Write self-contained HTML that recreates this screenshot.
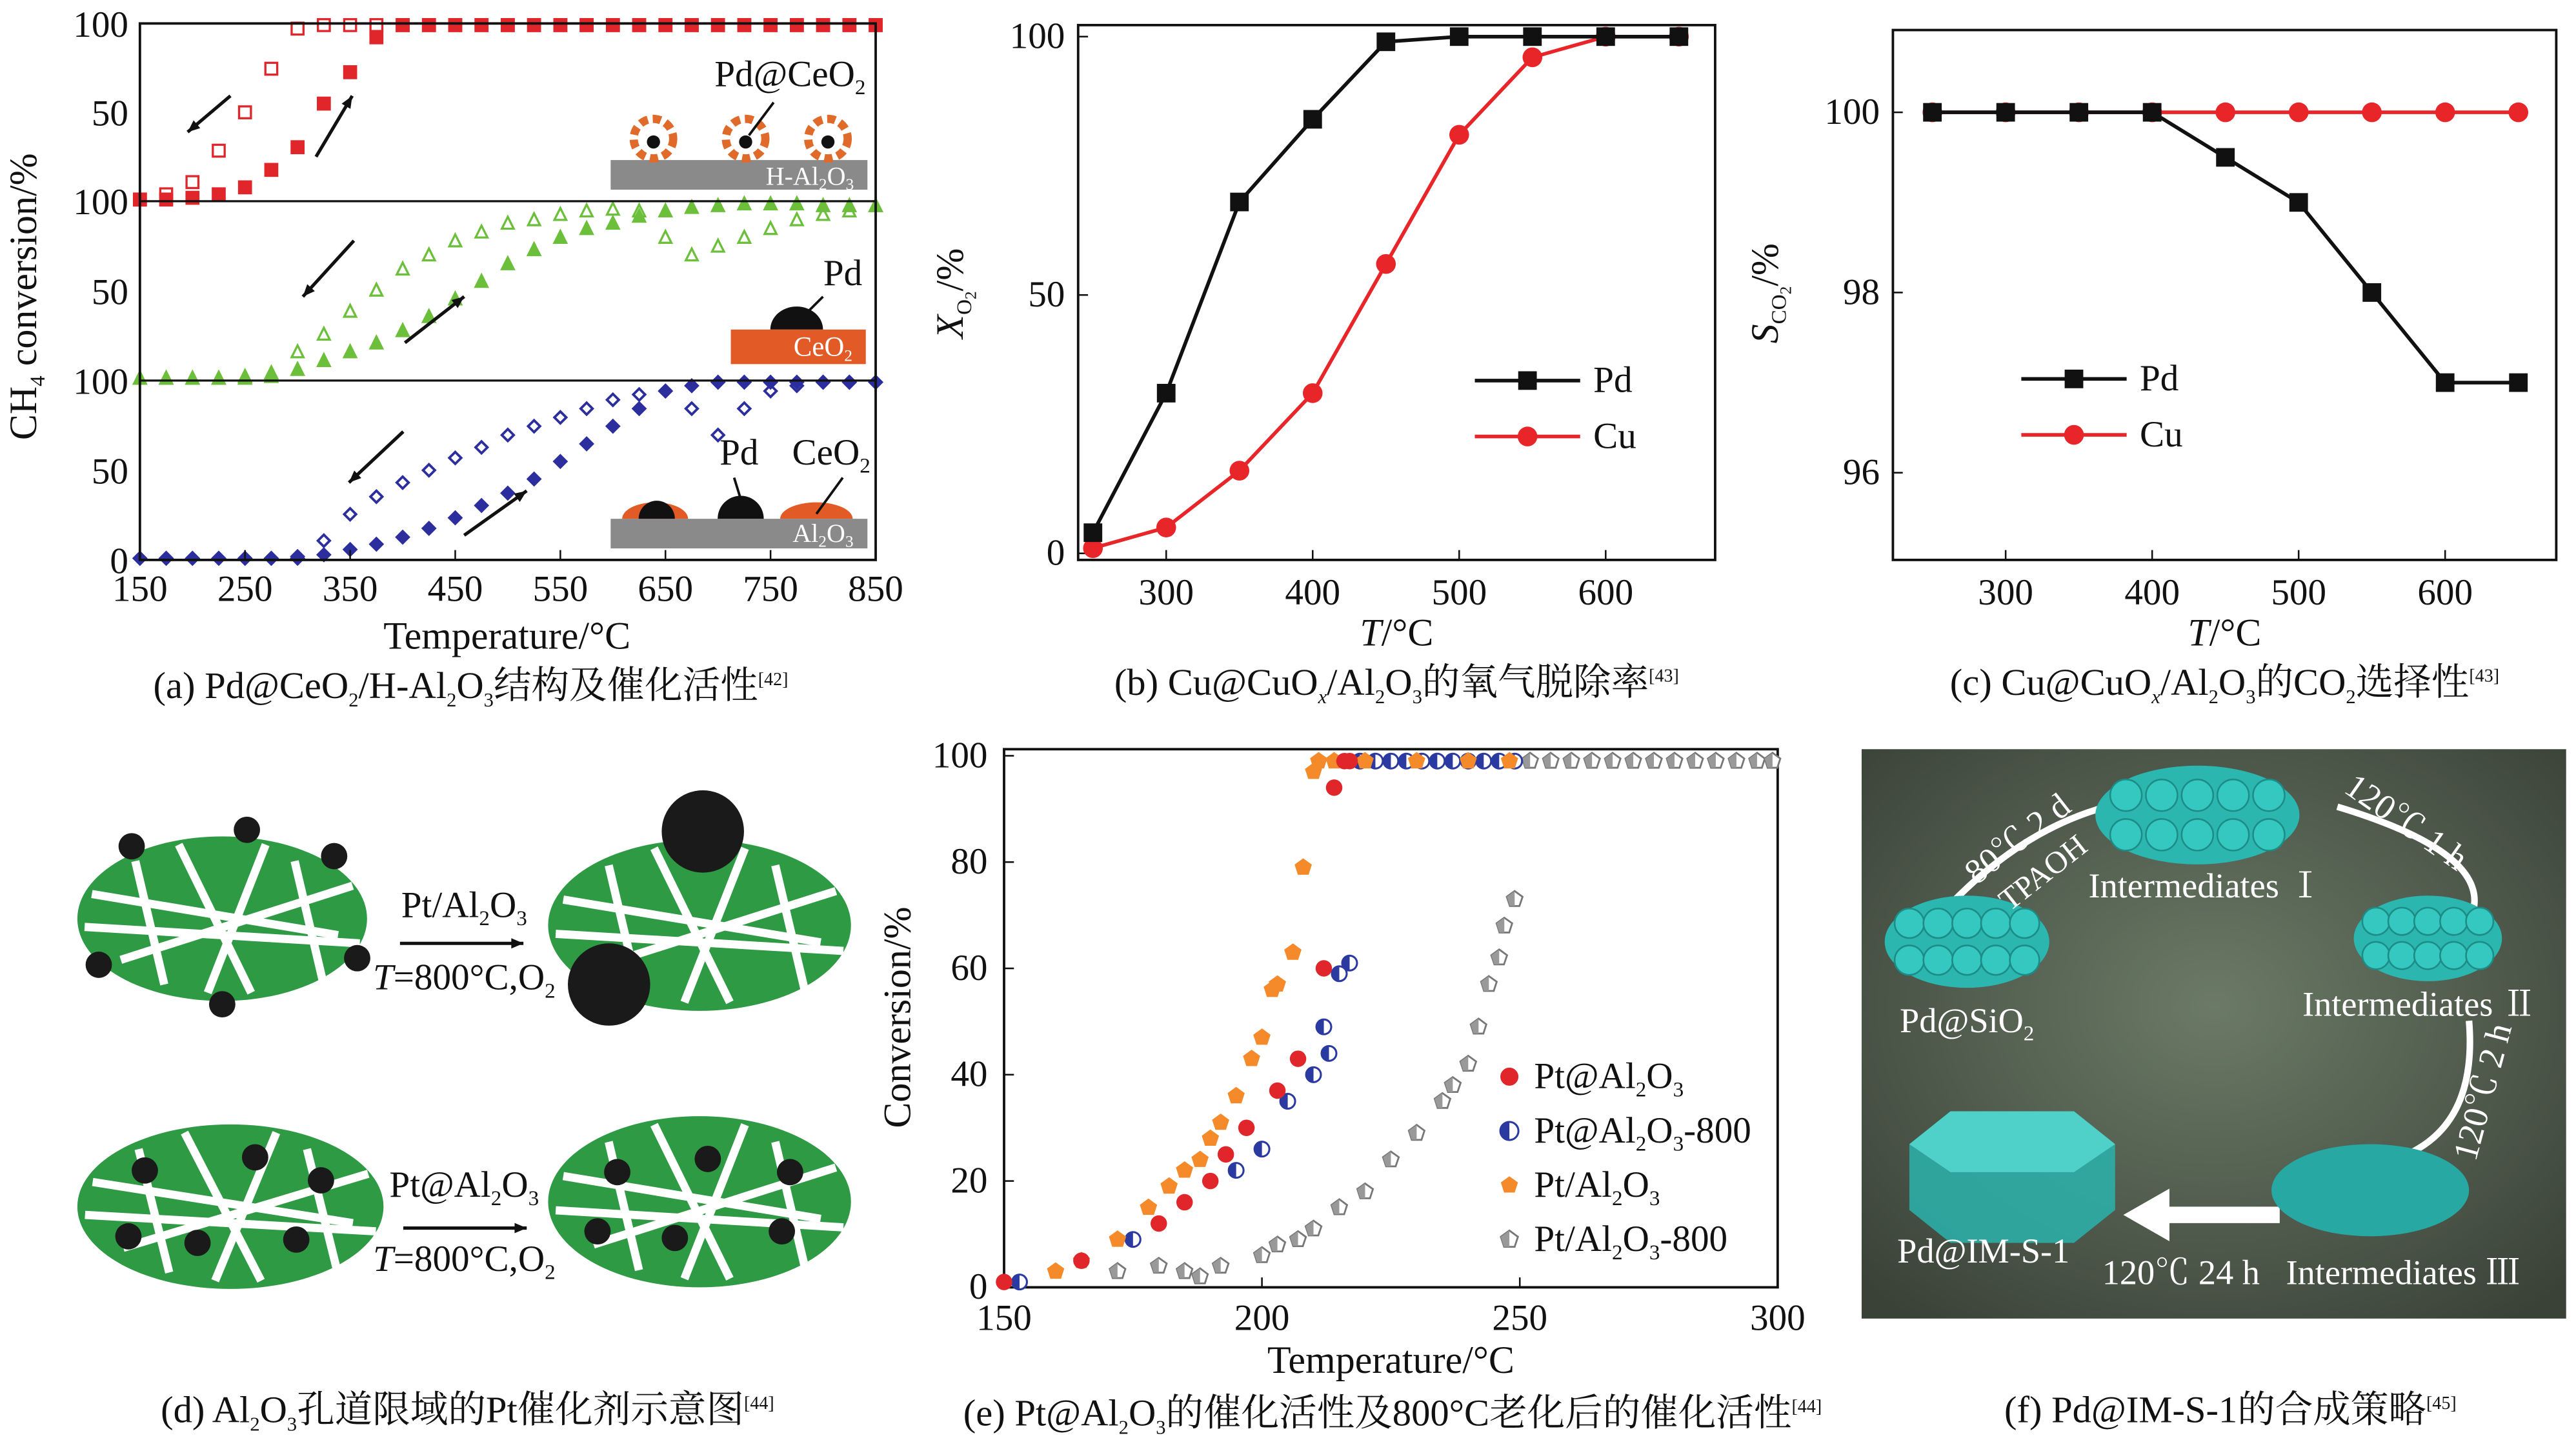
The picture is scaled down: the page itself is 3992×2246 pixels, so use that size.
<!DOCTYPE html>
<html><head><meta charset="utf-8">
<style>
html,body{margin:0;padding:0;background:#fff;}
svg{display:block;}
text{font-family:"Liberation Serif","Noto Serif CJK SC",serif;fill:#111;}
</style></head>
<body>
<svg id="fig" width="3992" height="2246" viewBox="0 0 1565 880" xmlns="http://www.w3.org/2000/svg"></svg>
<script>
// ---------- Panel (a) data ----------
const aTemps=[150,175,200,225,250,275,300,325,350,375,400,425,450,475,500,525,550,575,600,625,650,675,700,725,750,775,800,825,850];
const a1Heat=[0,0,1,3,7,17,30,55,73,93,100,100,100,100,100,100,100,100,100,100,100,100,100,100,100,100,100,100,100];
const a1Cool=[0,3,10,28,50,75,98,100,100,100,100,100,100,100,100,100,100,100,100,100,100,100,100,100,100,100,100,100,100];
const a2Heat=[0,0,0,0,0,1,5,10,15,20,27,35,45,55,65,73,80,85,88,92,95,97,98,99,99,99,98,98,98];
const a2Cool=[0,0,0,0,1,3,15,25,38,50,62,70,78,83,88,90,93,95,96,95,80,70,75,80,85,90,93,95,98];
const a3Heat=[0,0,0,0,0,0,0,2,5,8,12,17,23,30,37,45,55,65,75,85,95,98,100,100,100,100,100,100,100];
const a3Cool=[0,0,0,0,0,0,1,10,25,35,43,50,57,63,70,75,80,85,90,93,95,85,70,85,95,98,100,100,100];
const aTicksX=[150,250,350,450,550,650,750,850];
// ---------- Panel (b) data ----------
const bTemps=[250,300,350,400,450,500,550,600,650];
const bPd=[4,31,68,84,99,100,100,100,100];
const bCu=[1,5,16,31,56,81,96,100,100];
const bTicksX=[300,400,500,600];
const bTicksY=[0,50,100];
// ---------- Panel (c) data ----------
const cTemps=[250,300,350,400,450,500,550,600,650];
const cPd=[100,100,100,100,99.5,99,98,97,97];
const cCu=[100,100,100,100,100,100,100,100,100];
const cTicksX=[300,400,500,600];
const cTicksY=[96,98,100];
// ---------- Panel (e) data ----------
const eRedT=[150,165,180,185,190,193,197,203,207,212,214,216,217];
const eRedV=[1,5,12,16,20,25,30,37,43,60,94,99,99];
const eBlueT=[153,175,195,200,205,210,212,213,215,217,219,222,225,228,231,234,237,240,243,246,249];
const eBlueV=[1,9,22,26,35,40,49,44,59,61,99,99,99,99,99,99,99,99,99,99,99];
const eOrT=[160,165,172,178,182,185,188,190,192,195,198,200,202,203,206,208,210,211,214,220,230,240,248];
const eOrV=[3,5,9,15,19,22,24,28,31,36,43,47,56,57,63,79,97,99,99,99,99,99,99];
const eGrT=[172,180,185,188,192,200,203,207,210,215,220,225,230,235,237,240,242,244,246,247,249,252,256,260,264,268,272,276,280,284,288,292,296,299];
const eGrV=[3,4,3,2,4,6,8,9,11,15,18,24,29,35,38,42,49,57,62,68,73,99,99,99,99,99,99,99,99,99,99,99,99,99];
const eTicksX=[150,200,250,300];
const eTicksY=[0,20,40,60,80,100];

const NS='http://www.w3.org/2000/svg';
const svg=document.getElementById('fig');
function mk(tag,attrs,parent){const e=document.createElementNS(NS,tag);for(const k in attrs)e.setAttribute(k,attrs[k]);(parent||svg).appendChild(e);return e;}
function txt(x,y,s,size,parent,anchor,extra){const t=mk('text',Object.assign({x:x,y:y,'font-size':size*1.12,'text-anchor':anchor||'middle'},extra||{}),parent);t.innerHTML=s;return t;}
function scale(d0,d1,r0,r1){return v=>r0+(v-d0)*(r1-r0)/(d1-d0);}
function marker(g,type,x,y,color,filled,s){
  let el;const f=filled?color:'#fff';
  if(type==='sq')el=mk('rect',{x:x-s,y:y-s,width:2*s,height:2*s,fill:f,stroke:color,'stroke-width':1.3},g);
  else if(type==='tri')el=mk('polygon',{points:`${x},${y-s*1.2} ${x-s},${y+s*0.8} ${x+s},${y+s*0.8}`,fill:f,stroke:color,'stroke-width':1.3},g);
  else if(type==='dia')el=mk('polygon',{points:`${x},${y-s} ${x+s},${y} ${x},${y+s} ${x-s},${y}`,fill:f,stroke:color,'stroke-width':1.5},g);
  else if(type==='circ')el=mk('circle',{cx:x,cy:y,r:s,fill:color},g);
  else if(type==='half'){el=mk('g',{},g);mk('circle',{cx:x,cy:y,r:s,fill:'#fff',stroke:color,'stroke-width':1.2},el);mk('path',{d:`M${x},${y-s} A${s},${s} 0 0 0 ${x},${y+s} Z`,fill:color},el);}
  else if(type==='pent'){let p=[];for(let i=0;i<5;i++){const a=-Math.PI/2+i*2*Math.PI/5;p.push((x+s*Math.cos(a)).toFixed(1)+','+(y+s*Math.sin(a)).toFixed(1));}el=mk('polygon',{points:p.join(' '),fill:color},g);}
  else if(type==='gpent'){let p=[];for(let i=0;i<5;i++){const a=-Math.PI/2+i*2*Math.PI/5;p.push((x+s*Math.cos(a)).toFixed(1)+','+(y+s*Math.sin(a)).toFixed(1));}el=mk('g',{},g);mk('polygon',{points:p.join(' '),fill:'#fff',stroke:'#777','stroke-width':1.1},el);mk('polygon',{points:`${x},${y-s} ${x-s*0.95},${y-s*0.3} ${x-s*0.6},${y+s*0.8} ${x},${y+s*0.8}`,fill:'#999'},el);}
  
  
  return el;
}

// ===== Panel (a) =====
const ga=mk('g',{});


const axA=scale(150,850,85,532);
const subs=[[14,122,a1Heat,a1Cool,'sq','#e0262a'],[122,231,a2Heat,a2Cool,'tri','#6cbf3a'],[231,340,a3Heat,a3Cool,'dia','#2b2e9c']];
subs.forEach((sb,si)=>{
  const ys=scale(0,100,sb[1]-1,sb[0]+1);
  for(let i=0;i<aTemps.length;i++){
    marker(ga,sb[4],axA(aTemps[i]),ys(sb[3][i]),sb[5],false,3.6);
    marker(ga,sb[4],axA(aTemps[i]),ys(sb[2][i]),sb[5],true,3.6);
  }
  mk('line',{x1:85,y1:sb[0],x2:532,y2:sb[0],stroke:'#111','stroke-width':1.3},ga);
  txt(78,sb[0]+8,'100',20,ga,'end');
  txt(78,(sb[0]+sb[1])/2+8,'50',20,ga,'end');
});
txt(78,348,'0',20,ga,'end');
mk('rect',{x:85,y:14,width:447,height:326,fill:'none',stroke:'#111','stroke-width':1.5},ga);
aTicksX.forEach(t=>{mk('line',{x1:axA(t),y1:340,x2:axA(t),y2:334,stroke:'#111'},ga);txt(axA(t),365,t,20,ga);});
txt(308,394,'Temperature/°C',21,ga);
txt(22,180,'CH<tspan font-size="13" dy="5">4</tspan><tspan dy="-5"> conversion/%</tspan>',21,ga,'middle',{transform:'rotate(-90 22 180)'});
// arrows
function arrow(g,x1,y1,x2,y2){mk('line',{x1:x1,y1:y1,x2:x2,y2:y2,stroke:'#111','stroke-width':2},g);const a=Math.atan2(y2-y1,x2-x1),L=8;mk('polygon',{points:`${x2},${y2} ${x2-L*Math.cos(a-0.4)},${y2-L*Math.sin(a-0.4)} ${x2-L*Math.cos(a+0.4)},${y2-L*Math.sin(a+0.4)}`,fill:'#111'},g);}
arrow(ga,140,58,114,80);arrow(ga,192,95,214,58);
arrow(ga,215,146,184,180);arrow(ga,246,208,282,180);
arrow(ga,245,262,212,293);arrow(ga,282,325,320,298);
// schematic decor a
mk('rect',{x:371,y:97,width:156,height:18,fill:'#8a8a8a'},ga);
txt(492,112,'H-Al<tspan font-size="10" dy="3">2</tspan><tspan dy="-3">O</tspan><tspan font-size="10" dy="3">3</tspan>',14,ga,'middle',{style:'fill:#fff'});
[397,453,503].forEach(cx=>{mk('circle',{cx:cx,cy:84,r:12,fill:'none',stroke:'#e06a2a','stroke-width':5,'stroke-dasharray':'5 3'},ga);mk('circle',{cx:cx,cy:86,r:4,fill:'#111'},ga);});
txt(480,52,'Pd@CeO<tspan font-size="13" dy="5">2</tspan>',20,ga);
mk('line',{x1:470,y1:62,x2:455,y2:82,stroke:'#111','stroke-width':1.5},ga);
mk('rect',{x:444,y:200,width:82,height:21,fill:'#e25a25'},ga);
txt(500,216,'CeO<tspan font-size="10" dy="3">2</tspan>',15,ga,'middle',{style:'fill:#fff'});
mk('path',{d:'M468,200 A16,14 0 0 1 500,200 Z',fill:'#111'},ga);
txt(512,173,'Pd',20,ga);mk('line',{x1:500,y1:180,x2:488,y2:192,stroke:'#111','stroke-width':1.5},ga);
mk('rect',{x:371,y:315,width:156,height:18,fill:'#8a8a8a'},ga);
txt(500,329,'Al<tspan font-size="10" dy="3">2</tspan><tspan dy="-3">O</tspan><tspan font-size="10" dy="3">3</tspan>',14,ga,'middle',{style:'fill:#fff'});
mk('path',{d:'M378,315 A20,10 0 0 1 418,315 Z',fill:'#e25a25'},ga);mk('path',{d:'M388,315 A11,11 0 0 1 410,315 Z',fill:'#111'},ga);
mk('path',{d:'M436,315 A14,14 0 0 1 464,315 Z',fill:'#111'},ga);
mk('path',{d:'M474,315 A22,10 0 0 1 518,315 Z',fill:'#e25a25'},ga);
txt(449,282,'Pd',20,ga);mk('line',{x1:446,y1:290,x2:450,y2:303,stroke:'#111','stroke-width':1.5},ga);
txt(505,282,'CeO<tspan font-size="13" dy="5">2</tspan>',20,ga);mk('line',{x1:512,y1:290,x2:496,y2:312,stroke:'#111','stroke-width':1.5},ga);
txt(286,424,'(a) Pd@CeO<tspan font-size="12" dy="5">2</tspan><tspan dy="-5">/H-Al</tspan><tspan font-size="12" dy="5">2</tspan><tspan dy="-5">O</tspan><tspan font-size="12" dy="5">3</tspan><tspan dy="-5">结构及催化活性</tspan><tspan font-size="11" dy="-8">[42]</tspan>',20.5,ga);

// ===== line charts (b),(c) =====
function lineChart(name,box,xd,yd,temps,s1,s2,ticksX,ticksY,ylab,cap,legY){
  const g=mk('g',{});
  
  
  const xs=scale(xd[0],xd[1],xd[2],xd[3]),ys=scale(yd[0],yd[1],yd[2],yd[3]);
  mk('rect',{x:box[0],y:box[1],width:box[2]-box[0],height:box[3]-box[1],fill:'none',stroke:'#111','stroke-width':1.5},g);
  ticksX.forEach(t=>{mk('line',{x1:xs(t),y1:box[3],x2:xs(t),y2:box[3]-6,stroke:'#111'},g);txt(xs(t),367,t,20,g);});
  ticksY.forEach(t=>{mk('line',{x1:box[0],y1:ys(t),x2:box[0]+6,y2:ys(t),stroke:'#111'},g);txt(box[0]-8,ys(t)+7,t,20,g,'end');});
  [[s2,'#e8262a','circ'],[s1,'#111','sq']].forEach(([s,c,m])=>{
    const p=mk('polyline',{points:temps.map((t,i)=>xs(t)+','+ys(s[i])).join(' '),fill:'none',stroke:c,'stroke-width':2.2},g);
    
    
    temps.forEach((t,i)=>{if(m==='sq')marker(g,'sq',xs(t),ys(s[i]),c,true,5);else marker(g,'circ',xs(t),ys(s[i]),c,true,6);});
  });
  const lx=legY[0],ly=legY[1];
  mk('line',{x1:lx,y1:ly,x2:lx+64,y2:ly,stroke:'#111','stroke-width':2.2},g);marker(g,'sq',lx+32,ly,'#111',true,5);txt(lx+72,ly+7,'Pd',20,g,'start');
  mk('line',{x1:lx,y1:ly+34,x2:lx+64,y2:ly+34,stroke:'#e8262a','stroke-width':2.2},g);marker(g,'circ',lx+32,ly+34,'#e8262a',true,6);txt(lx+72,ly+41,'Cu',20,g,'start');
  txt((box[0]+box[2])/2,392,'<tspan font-style="italic">T</tspan>/°C',21,g);
  txt(box[0]-70,178,ylab,21,g,'middle',{transform:`rotate(-90 ${box[0]-70} 178)`});
  txt((box[0]+box[2])/2,422,cap,20.5,g);
  return g;
}
lineChart('panel-b-chart',[655,15,1042,340],[250,650,664,1020],[0,100,336,22],bTemps,bPd,bCu,bTicksX,bTicksY,
 '<tspan font-style="italic">X</tspan><tspan font-size="13" dy="5">O</tspan><tspan font-size="10" dy="3">2</tspan><tspan dy="-8">/%</tspan>',
 '(b) Cu@CuO<tspan font-size="12" dy="5" font-style="italic">x</tspan><tspan dy="-5">/Al</tspan><tspan font-size="12" dy="5">2</tspan><tspan dy="-5">O</tspan><tspan font-size="12" dy="5">3</tspan><tspan dy="-5">的氧气脱除率</tspan><tspan font-size="11" dy="-8">[43]</tspan>',[896,231]);
lineChart('panel-c-chart',[1150,18,1553,340],[250,650,1174,1530],[96,100,287,68],cTemps,cPd,cCu,cTicksX,cTicksY,
 '<tspan font-style="italic">S</tspan><tspan font-size="13" dy="5">CO</tspan><tspan font-size="10" dy="3">2</tspan><tspan dy="-8">/%</tspan>',
 '(c) Cu@CuO<tspan font-size="12" dy="5" font-style="italic">x</tspan><tspan dy="-5">/Al</tspan><tspan font-size="12" dy="5">2</tspan><tspan dy="-5">O</tspan><tspan font-size="12" dy="5">3</tspan><tspan dy="-5">的CO</tspan><tspan font-size="12" dy="5">2</tspan><tspan dy="-5">选择性</tspan><tspan font-size="11" dy="-8">[43]</tspan>',[1228,230]);

// ===== Panel (e) =====
const ge=mk('g',{});


const exs=scale(150,300,610,1080),eys=scale(0,100,782,459);
mk('rect',{x:610,y:455,width:470,height:327,fill:'none',stroke:'#111','stroke-width':1.5},ge);
eTicksX.forEach(t=>{mk('line',{x1:exs(t),y1:782,x2:exs(t),y2:776,stroke:'#111'},ge);txt(exs(t),808,t,20,ge);});
eTicksY.forEach(t=>{mk('line',{x1:610,y1:eys(t),x2:616,y2:eys(t),stroke:'#111'},ge);txt(600,eys(t)+7,t,20,ge,'end');});
eGrT.forEach((t,i)=>marker(ge,'gpent',exs(t),eys(eGrV[i]),'#888',false,5));
eBlueT.forEach((t,i)=>marker(ge,'half',exs(t),eys(eBlueV[i]),'#2b3aa0',false,4.5));
eOrT.forEach((t,i)=>marker(ge,'pent',exs(t),eys(eOrV[i]),'#f58a2a',true,5.5));
eRedT.forEach((t,i)=>marker(ge,'circ',exs(t),eys(eRedV[i]),'#e0262a',true,5));
const legE=[['circ','#e0262a','Pt@Al<tspan font-size="13" dy="5">2</tspan><tspan dy="-5">O</tspan><tspan font-size="13" dy="5">3</tspan>'],['half','#2b3aa0','Pt@Al<tspan font-size="13" dy="5">2</tspan><tspan dy="-5">O</tspan><tspan font-size="13" dy="5">3</tspan><tspan dy="-5">-800</tspan>'],['pent','#f58a2a','Pt/Al<tspan font-size="13" dy="5">2</tspan><tspan dy="-5">O</tspan><tspan font-size="13" dy="5">3</tspan>'],['gpent','#888','Pt/Al<tspan font-size="13" dy="5">2</tspan><tspan dy="-5">O</tspan><tspan font-size="13" dy="5">3</tspan><tspan dy="-5">-800</tspan>']];
legE.forEach((l,i)=>{marker(ge,l[0],917,654+i*33,l[1],true,5.5);txt(932,661+i*33,l[2],20,ge,'start');});
txt(845,834,'Temperature/°C',21,ge);
txt(553,618,'Conversion/%',21,ge,'middle',{transform:'rotate(-90 553 618)'});
txt(846,866,'(e) Pt@Al<tspan font-size="12" dy="5">2</tspan><tspan dy="-5">O</tspan><tspan font-size="12" dy="5">3</tspan><tspan dy="-5">的催化活性及800°C老化后的催化活性</tspan><tspan font-size="11" dy="-8">[44]</tspan>',20.5,ge);

// ===== Panel (d) illustration =====
const gd=mk('g',{});


function blob(cx,cy,rx,ry,dots){
  mk('ellipse',{cx:cx,cy:cy,rx:rx,ry:ry,fill:'#2e9a44'},gd);
  const lines=[[-0.9,-0.3,0.8,0.2],[-0.7,0.5,0.9,-0.4],[-0.3,-0.9,0.2,0.9],[0.3,-0.9,-0.1,0.9],[-0.95,0.1,0.95,0.3],[0.5,-0.7,0.7,0.8],[-0.6,-0.7,-0.4,0.8]];
  lines.forEach(l=>mk('line',{x1:cx+l[0]*rx,y1:cy+l[1]*ry,x2:cx+l[2]*rx,y2:cy+l[3]*ry,stroke:'#fff','stroke-width':5},gd));
  dots.forEach(d=>mk('circle',{cx:cx+d[0],cy:cy+d[1],r:d[2],fill:'#1a1a1a'},gd));
}
blob(135,558,88,50,[[-55,-44,8],[15,-54,8],[68,-38,8],[-75,28,8],[0,52,8],[82,24,8]]);
blob(425,562,92,52,[[2,-57,25],[-55,36,25]]);
blob(140,733,93,50,[[-52,-22,8],[15,-30,8],[55,-16,8],[-62,18,8],[-20,22,8],[40,20,8]]);
blob(425,730,92,52,[[-50,-18,8],[5,-26,8],[55,-18,8],[-62,18,8],[-15,22,8],[50,18,8]]);
arrow(gd,243,573,318,573);arrow(gd,245,746,320,746);
txt(282,557,'Pt/Al<tspan font-size="13" dy="5">2</tspan><tspan dy="-5">O</tspan><tspan font-size="13" dy="5">3</tspan>',20,gd);
txt(282,601,'<tspan font-style="italic">T</tspan>=800°C,O<tspan font-size="13" dy="5">2</tspan>',20,gd);
txt(282,727,'Pt@Al<tspan font-size="13" dy="5">2</tspan><tspan dy="-5">O</tspan><tspan font-size="13" dy="5">3</tspan>',20,gd);
txt(282,772,'<tspan font-style="italic">T</tspan>=800°C,O<tspan font-size="13" dy="5">2</tspan>',20,gd);
txt(284,864,'(d) Al<tspan font-size="12" dy="5">2</tspan><tspan dy="-5">O</tspan><tspan font-size="12" dy="5">3</tspan><tspan dy="-5">孔道限域的Pt催化剂示意图</tspan><tspan font-size="11" dy="-8">[44]</tspan>',20.5,gd);

// ===== Panel (f) illustration =====
const gf=mk('g',{});


const defs=mk('defs',{},gf);
const rg=mk('radialGradient',{id:'bg',cx:'50%',cy:'45%',r:'70%'},defs);
mk('stop',{offset:'0','stop-color':'#6b7a66'},rg);mk('stop',{offset:'1','stop-color':'#3a4238'},rg);
mk('rect',{x:1131,y:455,width:428,height:346,fill:'url(#bg)'},gf);
mk('path',{d:'M1175,560 Q1250,475 1345,485',fill:'none',stroke:'#fff','stroke-width':4},gf);
mk('path',{d:'M1420,490 Q1520,520 1500,560',fill:'none',stroke:'#fff','stroke-width':4},gf);
mk('path',{d:'M1500,620 Q1505,680 1465,700',fill:'none',stroke:'#fff','stroke-width':4},gf);
mk('path',{d:'M1385,738 L1310,738',fill:'none',stroke:'#fff','stroke-width':10},gf);
mk('polygon',{points:'1290,738 1318,722 1318,754',fill:'#fff'},gf);
function cluster(cx,cy,rx,ry){mk('ellipse',{cx:cx,cy:cy,rx:rx,ry:ry,fill:'#2bb7b0'},gf);for(let i=0;i<10;i++){mk('circle',{cx:cx-rx*0.7+(i%5)*rx*0.35,cy:cy-ry*0.4+Math.floor(i/5)*ry*0.8,r:ry*0.32,fill:'#35c8c0',stroke:'#1d8c86','stroke-width':1},gf);}}
cluster(1335,495,62,30);cluster(1195,572,50,28);cluster(1475,570,45,26);
mk('ellipse',{cx:1440,cy:723,rx:60,ry:28,fill:'#27a8a2'},gf);
mk('polygon',{points:'1160,695 1185,675 1260,675 1285,695 1285,735 1260,755 1185,755 1160,735',fill:'#2ab3ad',opacity:0.85},gf);
mk('polygon',{points:'1160,695 1185,675 1260,675 1285,695 1260,712 1185,712',fill:'#4fd0c8'},gf);
const fl=[[1340,545,'Intermediates Ⅰ'],[1470,617,'Intermediates Ⅱ'],[1195,627,'Pd@SiO<tspan font-size="13" dy="5">2</tspan>'],[1205,767,'Pd@IM-S-1'],[1460,780,'Intermediates Ⅲ'],[1325,780,'120℃  24 h']];
fl.forEach(f=>txt(f[0],f[1],f[2],19,gf,'middle',{style:'fill:#fff'}));
txt(1230,515,'80℃  2 d',19,gf,'middle',{style:'fill:#fff',transform:'rotate(-38 1230 515)'});
txt(1245,535,'TPAOH',17,gf,'middle',{style:'fill:#fff',transform:'rotate(-38 1245 535)'});
txt(1458,505,'120℃  1 h',19,gf,'middle',{style:'fill:#fff',transform:'rotate(35 1458 505)'});
txt(1515,665,'120℃  2 h',19,gf,'middle',{style:'fill:#fff',transform:'rotate(-75 1515 665)'});
txt(1355,864,'(f) Pd@IM-S-1的合成策略<tspan font-size="11" dy="-8">[45]</tspan>',20.5,gf);
</script>
</body></html>
